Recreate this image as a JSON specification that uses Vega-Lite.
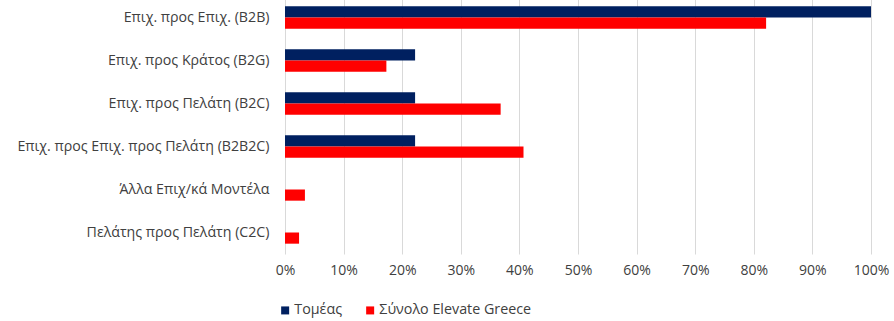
{
  "$schema": "https://vega.github.io/schema/vega-lite/v6.json",
  "autosize": {"type": "none"},
  "width": 586,
  "height": 258,
  "padding": {"left": 285, "top": -4, "right": 23, "bottom": 67},
  "background": "white",
  "config": {
    "font": "Open Sans",
    "view": {"stroke": null}
  },
  "data": {
    "values": [
      {"model": "Επιχ. προς Επιχ. (B2B)", "series": "Τομέας", "value": 1.0},
      {"model": "Επιχ. προς Επιχ. (B2B)", "series": "Σύνολο Elevate Greece", "value": 0.821},
      {"model": "Επιχ. προς Κράτος (B2G)", "series": "Τομέας", "value": 0.222},
      {"model": "Επιχ. προς Κράτος (B2G)", "series": "Σύνολο Elevate Greece", "value": 0.173},
      {"model": "Επιχ. προς Πελάτη (B2C)", "series": "Τομέας", "value": 0.222},
      {"model": "Επιχ. προς Πελάτη (B2C)", "series": "Σύνολο Elevate Greece", "value": 0.368},
      {"model": "Επιχ. προς Επιχ. προς Πελάτη (B2B2C)", "series": "Τομέας", "value": 0.222},
      {"model": "Επιχ. προς Επιχ. προς Πελάτη (B2B2C)", "series": "Σύνολο Elevate Greece", "value": 0.407},
      {"model": "Άλλα Επιχ/κά Μοντέλα ", "series": "Τομέας", "value": 0},
      {"model": "Άλλα Επιχ/κά Μοντέλα ", "series": "Σύνολο Elevate Greece", "value": 0.034},
      {"model": "Πελάτης προς Πελάτη (C2C)", "series": "Τομέας", "value": 0},
      {"model": "Πελάτης προς Πελάτη (C2C)", "series": "Σύνολο Elevate Greece", "value": 0.024}
    ]
  },
  "mark": {"type": "bar"},
  "encoding": {
    "y": {
      "field": "model",
      "type": "nominal",
      "sort": null,
      "scale": {"paddingInner": 0.48, "paddingOuter": 0.24},
      "axis": {
        "title": null,
        "domain": false,
        "ticks": false,
        "labelPadding": 16,
        "labelFontSize": 14.2,
        "labelColor": "#404040",
        "labelLimit": 300
      }
    },
    "yOffset": {
      "field": "series",
      "type": "nominal",
      "sort": ["Τομέας", "Σύνολο Elevate Greece"],
      "scale": {"paddingInner": 0, "paddingOuter": 0}
    },
    "x": {
      "field": "value",
      "type": "quantitative",
      "scale": {"domain": [0, 1], "nice": false},
      "axis": {
        "title": null,
        "format": ".0%",
        "values": [0, 0.1, 0.2, 0.3, 0.4, 0.5, 0.6, 0.7, 0.8, 0.9, 1.0],
        "labelOverlap": false,
        "labelBound": false,
        "labelFlush": false,
        "domain": false,
        "ticks": false,
        "grid": true,
        "gridColor": "#d9d9d9",
        "gridWidth": 1,
        "labelPadding": 9,
        "labelFontSize": 14,
        "labelColor": "#404040"
      }
    },
    "color": {
      "field": "series",
      "type": "nominal",
      "sort": ["Τομέας", "Σύνολο Elevate Greece"],
      "scale": {"domain": ["Τομέας", "Σύνολο Elevate Greece"], "range": ["#002060", "#ff0000"]},
      "legend": {
        "title": null,
        "orient": "none",
        "direction": "horizontal",
        "legendX": -7,
        "legendY": 307,
        "symbolType": "square",
        "symbolSize": 64,
        "symbolStrokeWidth": 0,
        "labelFontSize": 14.3,
        "labelColor": "#404040",
        "labelOffset": 2,
        "columnPadding": 20
      }
    }
  }
}
